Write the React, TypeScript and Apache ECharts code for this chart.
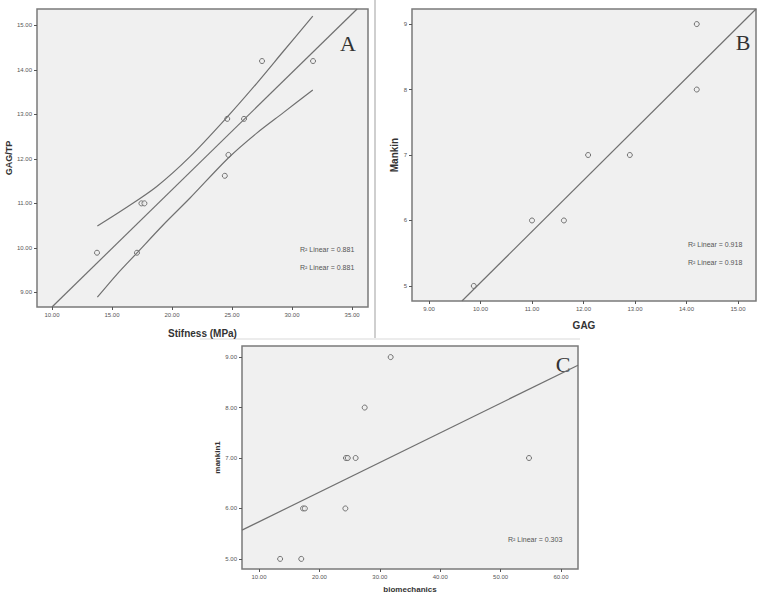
import React, { useEffect, useRef } from "react";
import * as echarts from "echarts";

// Panel A: Stiffness (MPa) vs GAG/TP
const aStiffness = [13.75, 17.08, 17.45, 17.7, 24.4, 24.7, 24.6, 26.0, 27.5, 31.75];
const aGagTp = [9.89, 9.89, 11.0, 11.0, 11.62, 12.09, 12.9, 12.9, 14.2, 14.2];
const aFitX = [10.0, 35.42];
const aFitY = [8.67, 15.37];
const aUpperX = [13.78, 15.94, 18.73, 21.5, 24.56, 27.06, 29.28, 31.73];
const aUpperY = [10.49, 10.86, 11.38, 12.05, 12.93, 13.7, 14.42, 15.21];
const aLowerX = [13.78, 15.39, 17.06, 19.28, 21.5, 24.69, 27.06, 29.28, 31.73];
const aLowerY = [8.89, 9.4, 9.88, 10.52, 11.12, 12.02, 12.58, 13.04, 13.55];
const aXTicks = [10, 15, 20, 25, 30, 35];
const aYTicks = [9, 10, 11, 12, 13, 14, 15];
const aR2 = "R² Linear = 0.881";

// Panel B: GAG vs Mankin
const bGag = [9.87, 11.0, 11.62, 12.09, 12.9, 14.2, 14.2];
const bMankin = [5, 6, 6, 7, 7, 8, 9];
const bFitX = [9.64, 15.35];
const bFitY = [4.77, 9.23];
const bXTicks = [9, 10, 11, 12, 13, 14, 15];
const bYTicks = [5, 6, 7, 8, 9];
const bR2 = "R² Linear = 0.918";

// Panel C: biomechanics vs mankin1
const cBiomech = [13.5, 17.0, 17.3, 17.6, 24.3, 24.4, 24.7, 26.0, 27.5, 31.8, 54.7];
const cMankin = [5, 5, 6, 6, 6, 7, 7, 7, 8, 9, 7];
const cFitX = [7.19, 62.81];
const cFitY = [5.57, 8.84];
const cXTicks = [10, 20, 30, 40, 50, 60];
const cYTicks = [5, 6, 7, 8, 9];
const cR2 = "R² Linear = 0.303";

const pairs = (xs: number[], ys: number[]) => xs.map((x, i) => [x, ys[i]]);

const FONT = "Liberation Sans, Arial, sans-serif";
const TICK_COLOR = "#555";
const LINE_COLOR = "#707070";

function axis(
  gridIndex: number,
  min: number,
  max: number,
  ticks: number[],
  fmt: (v: number) => string,
  name: string,
  nameGap: number,
  nameSize: number,
  vertical: boolean
) {
  return {
    type: "value",
    gridIndex,
    min,
    max,
    name,
    nameLocation: "middle",
    nameGap,
    nameRotate: vertical ? 90 : 0,
    nameTextStyle: { fontFamily: FONT, fontWeight: "bold", fontSize: nameSize, color: "#333" },
    axisLine: { show: false, onZero: false },
    axisTick: {
      show: true,
      customValues: ticks,
      length: 3,
      lineStyle: { color: TICK_COLOR, width: 1 },
    },
    axisLabel: {
      customValues: ticks,
      formatter: (v: number) => fmt(v),
      fontSize: 6,
      fontFamily: FONT,
      color: "#555555",
      margin: 5,
    },
    splitLine: { show: false },
  };
}

const f2 = (v: number) => v.toFixed(2);
const f0 = (v: number) => v.toFixed(0);

function scatter(idx: number, data: number[][]) {
  return {
    type: "scatter",
    xAxisIndex: idx,
    yAxisIndex: idx,
    data,
    symbol: "circle",
    symbolSize: 5,
    itemStyle: { color: "#efefef", borderColor: "#555", borderWidth: 1 },
    silent: true,
  };
}

function line(idx: number, data: number[][], smooth: boolean) {
  return {
    type: "line",
    xAxisIndex: idx,
    yAxisIndex: idx,
    data,
    smooth: smooth ? 0.3 : false,
    showSymbol: false,
    symbol: "none",
    lineStyle: { color: LINE_COLOR, width: 1.2 },
    silent: true,
  };
}

function txt(x: number, y: number, text: string, size: number, serif = false) {
  return {
    type: "text",
    x,
    y,
    style: {
      text,
      fontSize: size,
      fontFamily: serif ? "Liberation Serif, DejaVu Serif, serif" : FONT,
      fill: serif ? "#333" : "#555",
      align: serif ? "center" : "left",
      verticalAlign: "middle",
    },
    silent: true,
  };
}

export default function App() {
  const ref = useRef<HTMLDivElement>(null);
  useEffect(() => {
    document.body.style.margin = "0";
    if (!ref.current) return;
    const chart = echarts.init(ref.current, null, { renderer: "svg" });
    const gridStyle = {
      show: true,
      backgroundColor: "#f0f0f0",
      borderColor: "#7a7a7a",
      borderWidth: 1.5,
    };
    chart.setOption({
      animation: false,
      backgroundColor: "#ffffff",
      grid: [
        { left: 37, top: 9, width: 331, height: 298, ...gridStyle },
        { left: 412, top: 9, width: 344, height: 292, ...gridStyle },
        { left: 242, top: 346, width: 336, height: 223, ...gridStyle },
      ],
      xAxis: [
        axis(0, 8.75, 36.33, aXTicks, f2, "Stifness (MPa)", 21, 10, false),
        axis(1, 8.67, 15.35, bXTicks, f2, "GAG", 19, 10, false),
        axis(2, 7.19, 62.81, cXTicks, f2, "biomechanics", 16, 8, false),
      ],
      yAxis: [
        axis(0, 8.67, 15.37, aYTicks, f2, "GAG/TP", 13, 9, true),
        axis(1, 4.77, 9.23, bYTicks, f0, "Mankin", 13, 10, true),
        axis(2, 4.8, 9.22, cYTicks, f2, "mankin1", 17, 8, true),
      ],
      series: [
        line(0, pairs(aFitX, aFitY), false),
        line(0, pairs(aUpperX, aUpperY), true),
        line(0, pairs(aLowerX, aLowerY), true),
        scatter(0, pairs(aStiffness, aGagTp)),
        line(1, pairs(bFitX, bFitY), false),
        scatter(1, pairs(bGag, bMankin)),
        line(2, pairs(cFitX, cFitY), false),
        scatter(2, pairs(cBiomech, cMankin)),
      ],
      graphic: [
        { type: "line", shape: { x1: 375, y1: 0, x2: 375, y2: 339 }, style: { stroke: "#cfcfcf", lineWidth: 2 }, silent: true },
        { type: "line", shape: { x1: 200, y1: 339, x2: 580, y2: 339 }, style: { stroke: "#ececec", lineWidth: 2 }, silent: true },
        txt(300, 249, aR2, 7),
        txt(300, 267, aR2, 7),
        txt(688, 244, bR2, 7),
        txt(688, 262, bR2, 7),
        txt(508, 539, cR2, 7),
        txt(348, 43, "A", 22, true),
        txt(743, 42, "B", 22, true),
        txt(563, 364, "C", 22, true),
      ],
    });
    return () => chart.dispose();
  }, []);
  return <div ref={ref} style={{ width: 767, height: 601 }} />;
}
